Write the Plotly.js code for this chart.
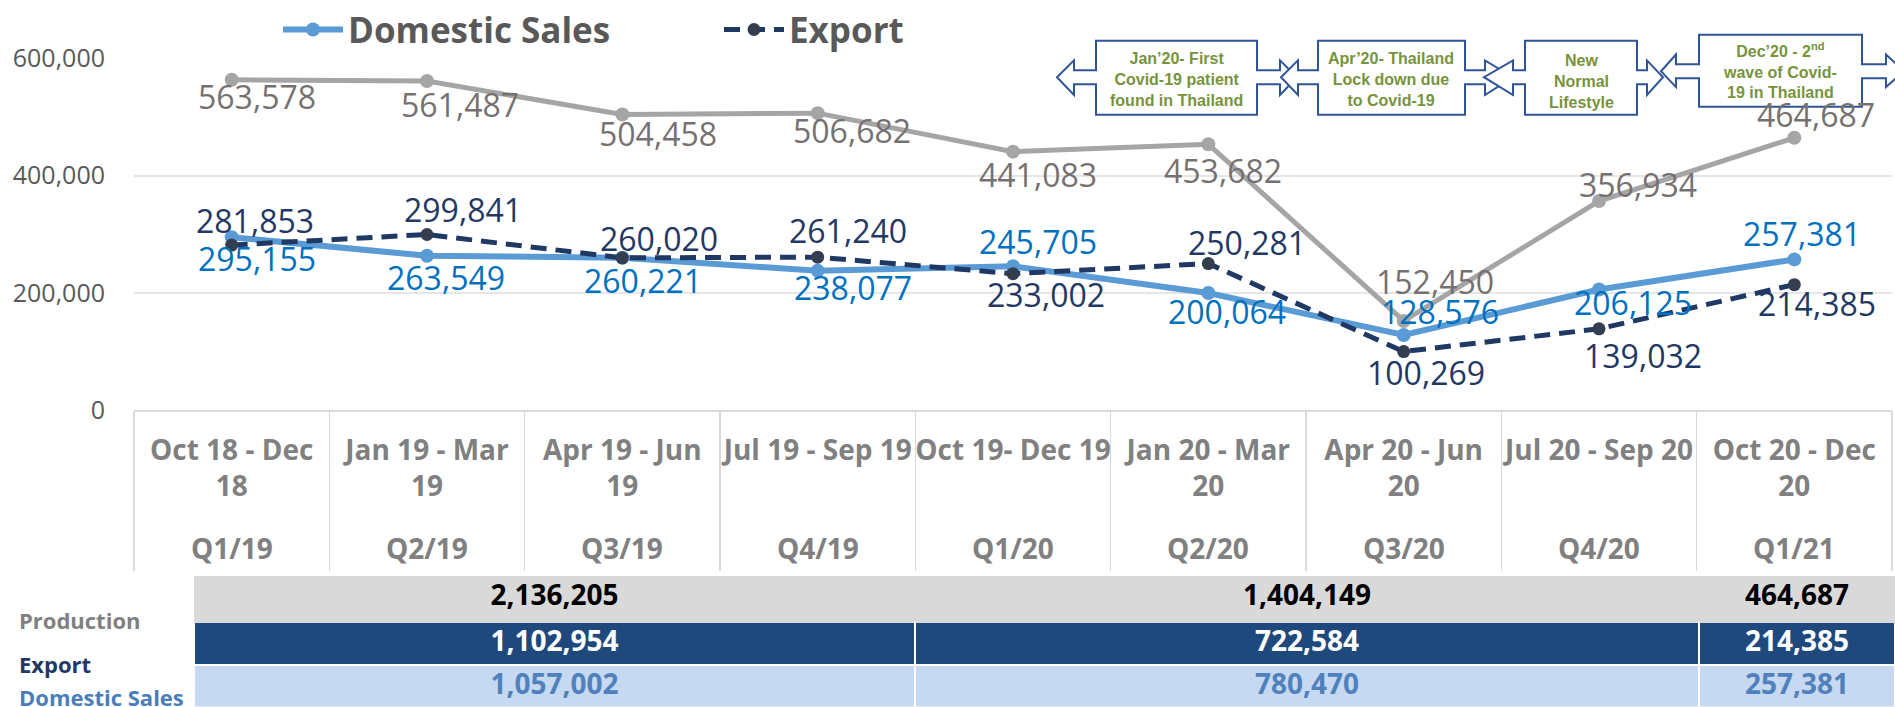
<!DOCTYPE html>
<html>
<head>
<meta charset="utf-8">
<script src="https://cdn.plot.ly/plotly-3.0.1.min.js"></script>
<style>
html,body{margin:0;padding:0;background:#ffffff;}
#chart{width:1895px;height:707px;}
</style>
</head>
<body>
<div id="chart"></div>
<script>
// ---------------- DATA ----------------
const categories = ['Oct 18 - Dec 18','Jan 19 - Mar 19','Apr 19 - Jun 19','Jul 19 - Sep 19','Oct 19- Dec 19','Jan 20 - Mar 20','Apr 20 - Jun 20','Jul 20 - Sep 20','Oct 20 - Dec 20'];
const categoryTickLabels = ['Oct 18 - Dec<br>18','Jan 19 - Mar<br>19','Apr 19 - Jun<br>19','Jul 19 - Sep 19','Oct 19- Dec 19','Jan 20 - Mar<br>20','Apr 20 - Jun<br>20','Jul 20 - Sep 20','Oct 20 - Dec<br>20'];
const quarterLabels = ['Q1/19','Q2/19','Q3/19','Q4/19','Q1/20','Q2/20','Q3/20','Q4/20','Q1/21'];
const production = [563578, 561487, 504458, 506682, 441083, 453682, 152450, 356934, 464687];
const domesticSales = [295155, 263549, 260221, 238077, 245705, 200064, 128576, 206125, 257381];
const exportSales = [281853, 299841, 260020, 261240, 233002, 250281, 100269, 139032, 214385];
const yTickValues = [0, 200000, 400000, 600000];
const tableRowLabels = ['Production', 'Export', 'Domestic Sales'];
const productionTotals = [2136205, 1404149, 464687];
const exportTotals = [1102954, 722584, 214385];
const domesticTotals = [1057002, 780470, 257381];
const calloutTexts = [
  'Jan’20- First<br>Covid-19 patient<br>found in Thailand',
  'Apr’20- Thailand<br>Lock down due<br>to Covid-19',
  'New<br>Normal<br>Lifestyle',
  'Dec’20 - 2<sup>nd</sup><br>wave of Covid-<br>19 in Thailand'
];

// ---------------- STYLE / LAYOUT HELPERS ----------------
const W = 1895, H = 707;
const PX = v => v / W;
const PY = v => 1 - v / H;
const FAM = '"Open Sans", Lato, "DejaVu Sans", sans-serif';
const ARIAL = '"Liberation Sans", Arial, sans-serif';
const fmt = v => v.toLocaleString('en-US');

// data-label pixel nudges (dx right, dy down) per point
const labelNudge = {
  production: {dx:[25,33,36,34,25,15,31,39,22], dy:[21,27,23,21,27,30,-35,-13,-19]},
  domestic:   {dx:[25,19,21,35,25,19,36,34,8],  dy:[25,26,27,21,-21,22,-19,17,-22]},
  exp:        {dx:[23,36,37,30,33,39,22,44,23], dy:[-21,-21,-15,-23,25,-17,25,31,23]}
};

const traces = [
  {type:'scatter', mode:'lines+markers', name:'Production', x:categories, y:production, showlegend:false,
   line:{color:'#a5a5a5', width:5}, marker:{color:'#a5a5a5', size:14}, cliponaxis:false, hoverinfo:'skip'},
  {type:'scatter', mode:'lines+markers', name:'Domestic Sales', x:categories, y:domesticSales,
   line:{color:'#5b9bd5', width:6}, marker:{color:'#5b9bd5', size:14}, cliponaxis:false, hoverinfo:'skip'},
  {type:'scatter', mode:'lines+markers', name:'Export', x:categories, y:exportSales,
   line:{color:'#1f3864', width:5, dash:'16px,9px'}, marker:{color:'#333f50', size:13}, cliponaxis:false, hoverinfo:'skip'},
  {type:'table', domain:{x:[PX(194), 1], y:[0, 1 - 575 / H]}, columnwidth:[721, 784, 196],
   header:{values: productionTotals.map(v => [fmt(v)]), height:46, align:'center',
           fill:{color:'#d9d9d9'}, line:{color:'#d9d9d9', width:1},
           font:{family:FAM, size:28, color:'#000000', weight:700}},
   cells:{values: exportTotals.map((v, i) => [fmt(v), fmt(domesticTotals[i])]), height:43, align:'center',
          fill:{color: exportTotals.map(() => ['#1f497d', '#c6d9f1'])}, line:{color:'#ffffff', width:2},
          font:{family:FAM, size:28, weight:700, color: exportTotals.map(() => ['#ffffff', '#4f81bd'])}}
  }
];

const annotations = [];
function addLabels(vals, nudge, color) {
  vals.forEach((v, i) => {
    annotations.push({x:categories[i], y:v, xref:'x', yref:'y', text:fmt(v), showarrow:false,
      xanchor:'center', yanchor:'middle', xshift:nudge.dx[i], yshift:-nudge.dy[i] + 4,
      font:{family:FAM, size:32, color:color}});
  });
}
addLabels(production, labelNudge.production, '#767171');
addLabels(domesticSales, labelNudge.domestic, '#0070c0');
addLabels(exportSales, labelNudge.exp, '#1f3864');

// quarter labels under the category labels
quarterLabels.forEach((q, i) => {
  annotations.push({x:categories[i], xref:'x', yref:'paper', y:PY(546), xanchor:'center', yanchor:'middle',
    text:q, showarrow:false, font:{family:FAM, size:28, weight:700, color:'#808080'}});
});

// table row labels
const rowLabelPos = [{y:619, c:'#808080'}, {y:664, c:'#1f3864'}, {y:697, c:'#4a7ebb'}];
tableRowLabels.forEach((t, i) => {
  annotations.push({xref:'paper', yref:'paper', x:PX(17), y:PY(rowLabelPos[i].y), xanchor:'left', yanchor:'middle',
    text:t, showarrow:false, font:{family:FAM, size:22, weight:700, color:rowLabelPos[i].c}});
});

// callout boxes (left-right arrow callouts)
const callouts = [
  {L:1096, R:1257, T:33, B:108, st:63, sb:77, ht:53, hb:88, ln:1074, lt:1057, rn:1280, rt:1297, cx:1176, cy:72},
  {L:1318, R:1465, T:33, B:108, st:63, sb:77, ht:53, hb:88, ln:1298, lt:1281, rn:1485, rt:1513, cx:1391, cy:72},
  {L:1525, R:1637, T:33, B:108, st:63, sb:77, ht:53, hb:88, ln:1513, lt:1484, rn:1647, rt:1663, cx:1581, cy:74},
  {L:1699, R:1862, T:27, B:100, st:57, sb:71, ht:47, hb:80, ln:1676, lt:1661, rn:1886, rt:1904, cx:1780, cy:63}
];
const shapes = callouts.map(c => {
  const mid = (c.st + c.sb) / 2;
  const pts = [[c.L,c.T],[c.R,c.T],[c.R,c.st],[c.rn,c.st],[c.rn,c.ht],[c.rt,mid],[c.rn,c.hb],[c.rn,c.sb],[c.R,c.sb],
               [c.R,c.B],[c.L,c.B],[c.L,c.sb],[c.ln,c.sb],[c.ln,c.hb],[c.lt,mid],[c.ln,c.ht],[c.ln,c.st],[c.L,c.st]];
  const path = pts.map((p, i) => (i ? 'L' : 'M') + PX(p[0]).toFixed(5) + ',' + PY(p[1]).toFixed(5)).join(' ') + ' Z';
  return {type:'path', xref:'paper', yref:'paper', path:path, layer:'above',
          line:{color:'#2f5597', width:2}, fillcolor:'#ffffff'};
});
callouts.forEach((c, i) => {
  annotations.push({xref:'paper', yref:'paper', x:PX(c.cx), y:PY(c.cy), xanchor:'center', yanchor:'middle',
    text:calloutTexts[i], showarrow:false, align:'center',
    font:{family:ARIAL, size:16, weight:700, color:'#77933c'}});
});

const layout = {
  width:W, height:H, margin:{l:0, r:0, t:0, b:0},
  paper_bgcolor:'#ffffff', plot_bgcolor:'#ffffff',
  font:{family:FAM},
  showlegend:true,
  xaxis:{domain:[PX(134), PX(1892)], type:'category', categoryorder:'array', categoryarray:categories,
         range:[-0.5, 8.5], tickmode:'array', tickvals:categories, ticktext:categoryTickLabels, tickangle:0,
         tickson:'boundaries', ticks:'outside', ticklen:159, tickwidth:1.5, tickcolor:'#d9d9d9',
         showline:true, linecolor:'#d9d9d9', linewidth:2, showgrid:false, zeroline:false,
         tickfont:{family:FAM, size:28, color:'#808080', weight:700}, ticklabelstandoff:14, fixedrange:true},
  yaxis:{domain:[1 - 407 / H, 1 - 51 / H], range:[0, 600000], tickmode:'array', tickvals:yTickValues,
         tickformat:',', showgrid:true, gridcolor:'#e6e6e6', gridwidth:2, zeroline:false, showline:false, ticks:'',
         tickfont:{family:FAM, size:25, color:'#595959'}, ticklabelstandoff:28, fixedrange:true},
  legend:{orientation:'h', x:PX(278), xanchor:'left', y:PY(22), yanchor:'middle',
          font:{family:FAM, size:35, color:'#595959', weight:700}, bgcolor:'rgba(0,0,0,0)',
          entrywidth:366, entrywidthmode:'pixels', itemwidth:60},
  shapes:shapes,
  annotations:annotations
};

Plotly.newPlot('chart', traces, layout, {staticPlot:true, displayModeBar:false});
</script>
</body>
</html>
